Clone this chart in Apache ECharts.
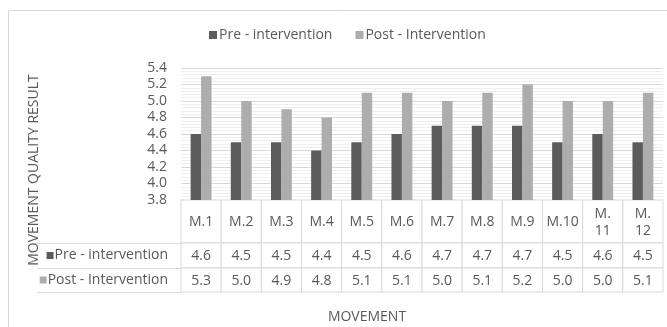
<!DOCTYPE html>
<html>
<head>
<meta charset="utf-8">
<script src="https://cdn.jsdelivr.net/npm/echarts@6/dist/echarts.min.js"></script>
<style>
  html, body { margin: 0; padding: 0; background: #fff; }
  #chart { width: 667px; height: 327px; }
</style>
</head>
<body>
<div id="chart"></div>
<script>
// Movement quality scores per movement, before and after the intervention
const categories = ['M.1', 'M.2', 'M.3', 'M.4', 'M.5', 'M.6', 'M.7', 'M.8', 'M.9', 'M.10', 'M.11', 'M.12'];
const preName = 'Pre - intervention';
const postName = 'Post - Intervention';
const preValues = [4.6, 4.5, 4.5, 4.4, 4.5, 4.6, 4.7, 4.7, 4.7, 4.5, 4.6, 4.5];
const postValues = [5.3, 5.0, 4.9, 4.8, 5.1, 5.1, 5.0, 5.1, 5.2, 5.0, 5.0, 5.1];
const yTicks = { min: 3.8, max: 5.4, step: 0.2 };
const yTitle = 'MOVEMENT QUALITY RESULT';
const xTitle = 'MOVEMENT';

const FONT = '"Open Sans", "Liberation Sans", sans-serif';
const FS = 14;
const TEXT = '#595959';
const BORDER = '#d9d9d9';
const PRE_COLOR = '#5c5c5c';
const POST_COLOR = '#adadad';

const PLOT_LEFT = 181, PLOT_RIGHT = 4;

// Names past M.10 are too wide for a cell and wrap after the dot
function wrapCategory(name) {
  const n = parseInt(name.split('.')[1], 10);
  return n > 10 ? name.replace('.', '.\n') : name;
}

// Draws one bordered data-table cell with its text centred
function cellRenderer(textOf) {
  return function (params, api) {
    const i = api.value(0);
    const c = api.coord([i, 0]);
    const s = api.size([1, 1]);
    return {
      type: 'group',
      children: [
        {
          type: 'rect',
          shape: { x: c[0] - s[0] / 2, y: c[1] - s[1] / 2, width: s[0], height: s[1] },
          style: { fill: '#fff', stroke: BORDER, lineWidth: 1 }
        },
        {
          type: 'text',
          x: c[0], y: c[1] + 1,
          style: {
            text: textOf(params.dataIndex),
            align: 'center', verticalAlign: 'middle',
            fill: TEXT, font: FS + 'px ' + FONT, lineHeight: 17
          }
        }
      ]
    };
  };
}

function tableRowAxis(label, color) {
  return {
    type: 'category', data: [label],
    axisLine: { show: false },
    axisTick: { show: true, length: 144, lineStyle: { color: BORDER } },
    axisLabel: {
      margin: 13, color: TEXT, fontFamily: FONT, fontSize: FS,
      formatter: '{m|}{t|' + label + '}',
      rich: {
        m: { width: 7, height: 7, backgroundColor: color },
        t: { color: TEXT, fontFamily: FONT, fontSize: FS, padding: [0, 0, 0, 1] }
      }
    }
  };
}

const cellData = categories.map((c, i) => [i, 0]);

const chart = echarts.init(document.getElementById('chart'), null, { renderer: 'canvas' });

const option = {
  backgroundColor: '#fff',
  animation: false,
  textStyle: { fontFamily: FONT },
  legend: {
    top: 23, left: 204,
    itemWidth: 8, itemHeight: 8, itemGap: 23,
    icon: 'rect',
    textStyle: { color: TEXT, fontSize: FS, fontFamily: FONT, padding: [0, 0, 0, -3] },
    data: [preName, postName]
  },
  grid: [
    { left: PLOT_LEFT, right: PLOT_RIGHT, top: 68, height: 132 },
    { left: PLOT_LEFT, right: PLOT_RIGHT, top: 200, height: 43 },
    { left: PLOT_LEFT, right: PLOT_RIGHT, top: 243, height: 25 },
    { left: PLOT_LEFT, right: PLOT_RIGHT, top: 268, height: 24 }
  ],
  xAxis: [0, 1, 2, 3].map(g => ({
    type: 'category', gridIndex: g, data: categories, show: false
  })),
  yAxis: [
    {
      type: 'value', gridIndex: 0,
      min: yTicks.min, max: yTicks.max, interval: yTicks.step,
      axisLine: { show: false }, axisTick: { show: false },
      axisLabel: {
        margin: 14, color: TEXT, fontSize: FS, fontFamily: FONT,
        formatter: v => v.toFixed(1)
      },
      splitLine: { lineStyle: { color: BORDER } },
      minorTick: { show: false, splitNumber: 5 },
      minorSplitLine: { show: true, lineStyle: { color: '#efefef' } }
    },
    { type: 'category', gridIndex: 1, data: [''], show: false },
    Object.assign(tableRowAxis(preName, PRE_COLOR), { gridIndex: 2 }),
    Object.assign(tableRowAxis(postName, POST_COLOR), { gridIndex: 3 })
  ],
  series: [
    {
      name: preName, type: 'bar', xAxisIndex: 0, yAxisIndex: 0,
      data: preValues, itemStyle: { color: PRE_COLOR },
      barGap: '0%', barCategoryGap: '48%'
    },
    {
      name: postName, type: 'bar', xAxisIndex: 0, yAxisIndex: 0,
      data: postValues, itemStyle: { color: POST_COLOR },
      barGap: '0%', barCategoryGap: '48%'
    },
    {
      type: 'custom', xAxisIndex: 1, yAxisIndex: 1, data: cellData,
      renderItem: cellRenderer(i => wrapCategory(categories[i]))
    },
    {
      type: 'custom', xAxisIndex: 2, yAxisIndex: 2, data: cellData,
      renderItem: cellRenderer(i => preValues[i].toFixed(1))
    },
    {
      type: 'custom', xAxisIndex: 3, yAxisIndex: 3, data: cellData,
      renderItem: cellRenderer(i => postValues[i].toFixed(1))
    }
  ],
  graphic: [
    {
      type: 'rect', silent: true,
      shape: { x: 8.5, y: 10.5, width: 700, height: 400 },
      style: { fill: 'none', stroke: BORDER, lineWidth: 1 }
    },
    {
      type: 'text', x: 34, y: 170, rotation: Math.PI / 2,
      style: {
        text: yTitle, align: 'center', verticalAlign: 'middle',
        fill: TEXT, font: FS + 'px ' + FONT
      }
    },
    {
      type: 'text', x: 367, y: 317,
      style: {
        text: xTitle, align: 'center', verticalAlign: 'middle',
        fill: TEXT, font: FS + 'px ' + FONT
      }
    }
  ]
};

chart.setOption(option);
</script>
</body>
</html>
